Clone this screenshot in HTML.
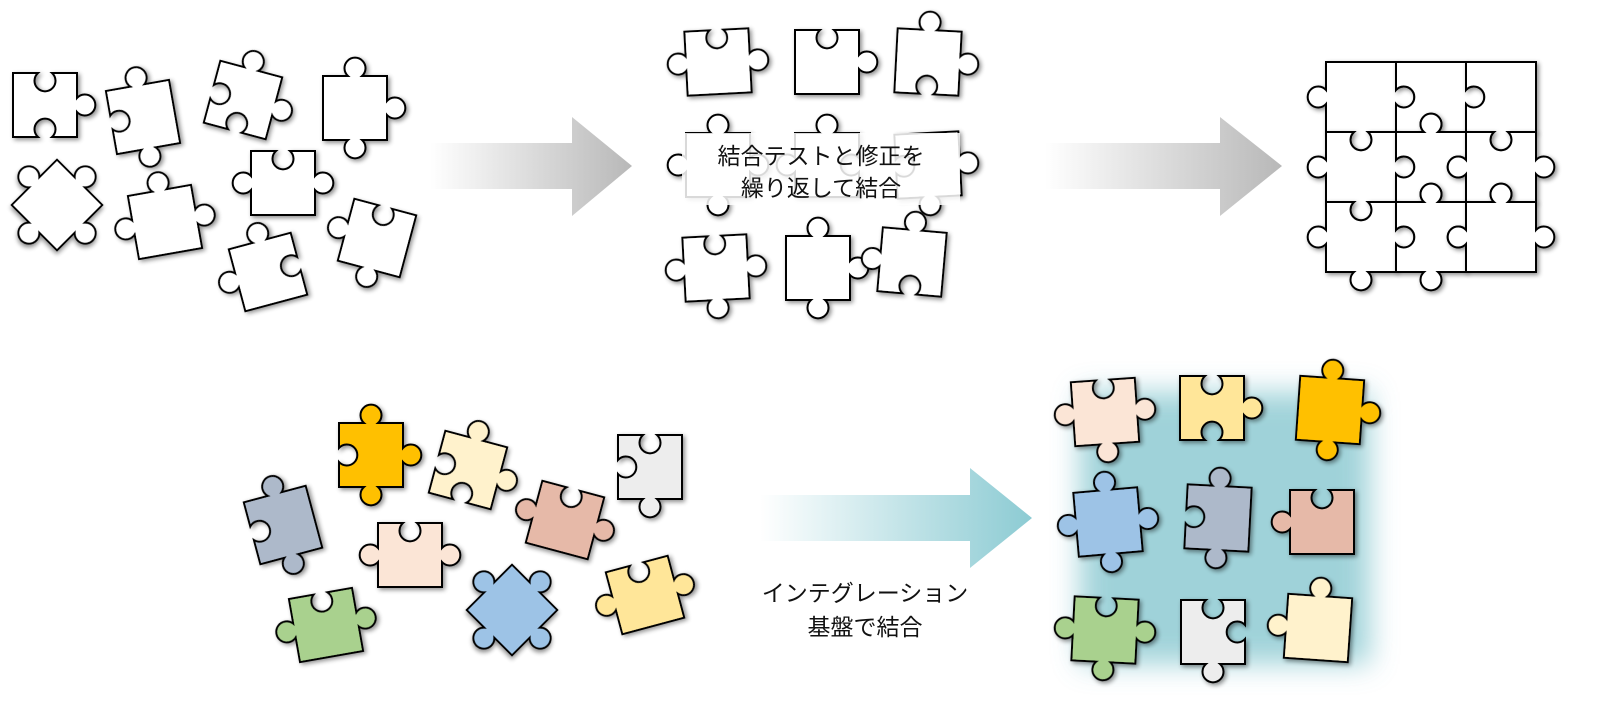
<!DOCTYPE html>
<html><head><meta charset="utf-8">
<style>
html,body{margin:0;padding:0;background:#fff;}
svg{display:block;}
text{font-family:"Liberation Sans","Noto Sans CJK JP",sans-serif;font-size:23px;fill:#111;}
</style></head>
<body>
<svg id="s" width="1605" height="715" viewBox="0 0 1605 715" xmlns="http://www.w3.org/2000/svg">
<defs>
<filter id="sh" x="-30%" y="-30%" width="160%" height="160%">
<feGaussianBlur in="SourceAlpha" stdDeviation="2.5"/><feOffset dx="2" dy="2"/>
<feComponentTransfer><feFuncA type="linear" slope="0.45"/></feComponentTransfer>
<feMerge><feMergeNode/><feMergeNode in="SourceGraphic"/></feMerge></filter>
<linearGradient id="g1" x1="0" x2="1"><stop offset="0" stop-color="#fff"/><stop offset="1" stop-color="#b8b8b8"/></linearGradient>
<linearGradient id="g2" x1="0" x2="1"><stop offset="0" stop-color="#fff"/><stop offset="1" stop-color="#8ccbd3"/></linearGradient>
<filter id="blur" x="-30%" y="-30%" width="160%" height="160%"><feGaussianBlur stdDeviation="14"/></filter>
</defs>
<rect x="1080" y="392" width="290" height="272" fill="#8fcbd3" opacity="0.85" filter="url(#blur)"/>
<g id="pieces"></g>
<path d="M430 143 H572 V117 L632 166 L572 216 V189 H430 Z" fill="url(#g1)"/>
<path d="M1045 143 H1220 V117 L1282 166 L1220 216 V189 H1045 Z" fill="url(#g1)"/>
<path d="M760 495 H970 V468 L1032 518 L970 568 V541 H760 Z" fill="url(#g2)"/>
<rect x="682" y="133" width="278" height="72" fill="#fff" opacity="0.85"/>
<text x="821" y="164" text-anchor="middle">結合テストと修正を</text>
<text x="821" y="196" text-anchor="middle">繰り返して結合</text>
<text x="865" y="601" text-anchor="middle">インテグレーション</text>
<text x="865" y="635" text-anchor="middle">基盤で結合</text>
</svg>
<script>
function piece(cx,cy,rot,sides,fill,s){
  s=s||64;var h=s/2,n=7,r=10.5;
  var d="M"+(-h)+" "+(-h);
  var corners=[[-h,-h],[h,-h],[h,h],[-h,h]];
  for(var i=0;i<4;i++){
    var a=corners[i],b=corners[(i+1)%4];
    var dx=(b[0]-a[0])/s,dy=(b[1]-a[1])/s;
    var mx=(a[0]+b[0])/2,my=(a[1]+b[1])/2;
    if(sides[i]){
      var p1=[mx-dx*n,my-dy*n],p2=[mx+dx*n,my+dy*n];
      d+=" L"+p1[0]+" "+p1[1]+" A"+r+" "+r+" 0 1 "+(sides[i]>0?1:0)+" "+p2[0]+" "+p2[1];
    }
    d+=" L"+b[0]+" "+b[1];
  }
  d+="Z";
  return '<path transform="translate('+cx+' '+cy+') rotate('+rot+')" d="'+d+'" fill="'+(fill||"#fff")+'" stroke="#000" stroke-width="2" filter="url(#sh)"/>';
}
var o="";
[[45,105,0,[-1,1,-1,0]],[143,117,-10,[1,0,1,-1]],[243,100,15,[1,1,-1,-1]],[355,108,0,[1,1,1,0]],
 [57,205,45,[1,1,1,1]],[283,183,0,[-1,1,0,1]],[165,222,-10,[1,1,0,1]],[268,272,-15,[1,-1,0,1]],[377,238,15,[-1,0,1,1]]
].forEach(function(p){o+=piece(p[0],p[1],p[2],p[3]);});
[[718,62,-3,[-1,1,0,1]],[827,62,0,[-1,1,0,0]],[928,62,3,[1,1,-1,0]],
 [718,165,0,[1,1,1,1]],[827,165,0,[1,-1,0,1]],[928,165,-3,[0,1,1,-1]],
 [716,268,-3,[-1,1,1,1]],[818,268,0,[1,1,1,0]],[912,262,5,[1,0,-1,1]]
].forEach(function(p){o+=piece(p[0],p[1],p[2],p[3]);});
var H=[[1,-1,1],[1,-1,-1]];
var V=[[1,1],[1,-1],[1,-1]];
var top=[-1,-1,1],bot=[1,1,0],lef=[1,1,1],rig=[0,1,1];
for(var r=0;r<3;r++)for(var c=0;c<3;c++){
  var t=r==0?top[c]:-H[r-1][c], b=r==2?bot[c]:H[r][c];
  var l=c==0?lef[r]:-V[r][c-1], rt=c==2?rig[r]:V[r][c];
  o+=piece(1361+c*70,97+r*70,0,[t,rt,b,l],"#fff",70);
}
[[371,455,0,[1,1,1,-1],"#FFC000"],[468,470,15,[1,1,-1,-1],"#FFF2CC"],[650,467,0,[-1,0,1,-1],"#EDEDED"],
 [283,525,-15,[1,0,1,-1],"#ADB9CA"],[410,555,0,[-1,1,0,1],"#FBE5D6"],[565,520,15,[-1,1,0,1],"#E6B9A8"],
 [326,625,-10,[-1,1,0,1],"#A9D18E"],[512,610,45,[1,1,1,1],"#9DC3E6"],[645,595,-15,[-1,1,0,1],"#FFE699"]
].forEach(function(p){o+=piece(p[0],p[1],p[2],p[3],p[4]);});
[[1105,412,-4,[-1,1,1,1],"#FBE5D6"],[1212,408,0,[-1,1,-1,0],"#FFE699"],[1330,410,4,[1,1,1,0],"#FFC000"],
 [1108,522,-5,[1,1,1,1],"#9DC3E6"],[1218,518,3,[1,0,1,-1],"#ADB9CA"],[1322,522,0,[-1,0,0,1],"#E6B9A8"],
 [1105,630,3,[-1,1,1,1],"#A9D18E"],[1213,632,0,[-1,-1,1,0],"#EDEDED"],[1318,628,4,[1,0,0,1],"#FFF2CC"]
].forEach(function(p){o+=piece(p[0],p[1],p[2],p[3],p[4]);});
document.getElementById("pieces").innerHTML=o;
</script>
</body></html>
